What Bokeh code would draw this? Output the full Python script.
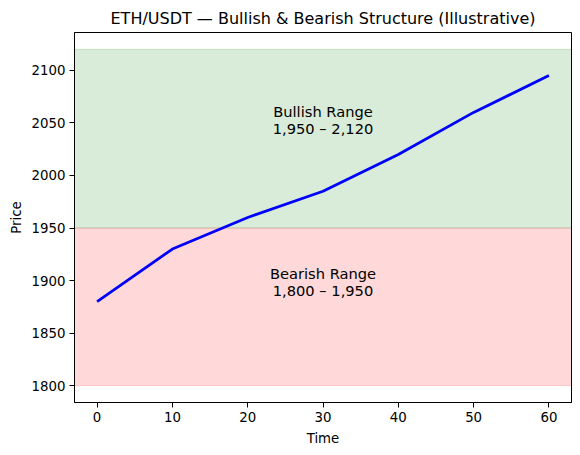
from bokeh.plotting import figure
from bokeh.models import BoxAnnotation, Range1d, FixedTicker, ColumnDataSource
from bokeh.core.properties import value
from bokeh.embed import file_html
from bokeh.resources import INLINE

# Data
time = [0, 10, 20, 30, 40, 50, 60]
price = [1880, 1930, 1960, 1985, 2020, 2060, 2095]

bull_range = (1950, 2120)
bear_range = (1800, 1950)

x_ticks = [0, 10, 20, 30, 40, 50, 60]
y_ticks = [1800, 1850, 1900, 1950, 2000, 2050, 2100]

label_x = [30, 30]
label_y = [2053, 1899]
label_text = ["Bullish Range\n1,950 \u2013 2,120", "Bearish Range\n1,800 \u2013 1,950"]

FONT = "DejaVu Sans"

p = figure(width=578, height=449, output_backend="svg", toolbar_location=None,
           x_range=Range1d(-3, 63), y_range=Range1d(1784, 2136),
           title="ETH/USDT \u2014 Bullish & Bearish Structure (Illustrative)")
p.min_border_left = 74
p.min_border_right = 7
p.min_border_top = 32
p.min_border_bottom = 47

p.title.text_font = FONT
p.title.text_font_size = "12pt"
p.title.text_font_style = "normal"
p.title.text_color = "black"
p.title.align = "center"
p.title.standoff = 10

p.xgrid.visible = False
p.ygrid.visible = False
p.outline_line_color = "black"
p.outline_line_width = 1
p.outline_line_alpha = 1.0

p.add_layout(BoxAnnotation(bottom=bull_range[0], top=bull_range[1],
                           fill_color="green", fill_alpha=0.15,
                           line_color="green", line_alpha=0.15, line_width=1, level="underlay"))
p.add_layout(BoxAnnotation(bottom=bear_range[0], top=bear_range[1],
                           fill_color="red", fill_alpha=0.15,
                           line_color="red", line_alpha=0.15, line_width=1, level="underlay"))

p.line(time, price, line_color="blue", line_width=2.8)

src = ColumnDataSource(dict(x=label_x, y=label_y, t=label_text))
p.text(x="x", y="y", text="t", source=src, text_align="center", text_baseline="middle",
       text_font=value(FONT), text_font_size="11pt", text_color="black", text_line_height=1.0)

p.xaxis.ticker = FixedTicker(ticks=x_ticks)
p.yaxis.ticker = FixedTicker(ticks=y_ticks)
for ax in (p.xaxis, p.yaxis):
    ax.major_label_text_font = FONT
    ax.major_label_text_font_size = "10pt"
    ax.major_label_text_color = "black"
    ax.axis_label_text_font = FONT
    ax.axis_label_text_font_size = "10pt"
    ax.axis_label_text_font_style = "normal"
    ax.axis_label_text_color = "black"
    ax.major_tick_in = 0
    ax.major_tick_out = 5
    ax.minor_tick_line_color = None
    ax.axis_line_color = "black"
    ax.major_tick_line_color = "black"
    ax.major_label_standoff = 4
p.xaxis.axis_label = "Time"
p.yaxis.axis_label = "Price"
p.xaxis.axis_label_standoff = 6
p.yaxis.axis_label_standoff = 5

open("out.html", "w").write(file_html(p, INLINE))
